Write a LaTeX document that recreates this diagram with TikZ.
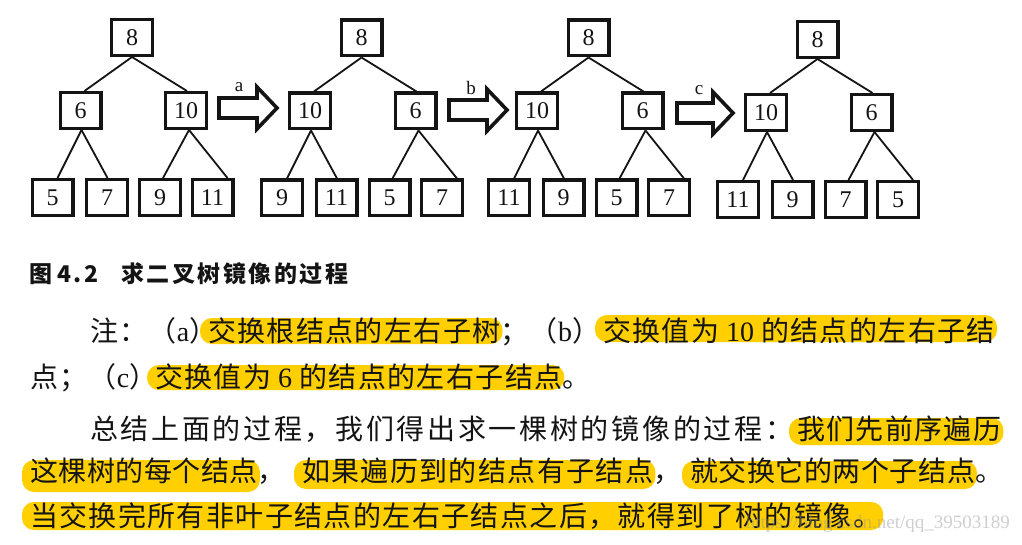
\documentclass[tikz,border=0pt]{standalone}
\usepackage{fontspec}
\setmainfont{Liberation Serif}
\newfontfamily\cjkp{Noto Sans CJK SC}[LetterSpace=5]
\newfontfamily\cjkw{Noto Sans CJK SC}[LetterSpace=9.6]
\newfontfamily\cjkn{Noto Sans CJK SC}[LetterSpace=2]
\newfontfamily\cjkh{Noto Sans CJK SC}[LetterSpace=11]
\usetikzlibrary{backgrounds,calc}
\definecolor{hly}{RGB}{255,207,0}
\definecolor{ink}{RGB}{20,20,20}
\definecolor{wmc}{RGB}{150,150,150}
\newcommand\lat[1]{{\rmfamily #1}}
\newcommand\hlbox[3]{\fill[hl] let \p1=(#1.base west), \p2=(#1.base east) in (\x1-8pt,-#2pt) rectangle (\x2+2pt,-#3pt);}
\begin{document}
\begin{tikzpicture}[x=1pt,y=-1pt,
  bx/.style={draw=ink,line width=3.3pt,minimum width=40.7pt,minimum height=35.7pt,inner sep=0pt,font=\fontsize{24}{24}\selectfont,text=ink},
  edge/.style={draw=ink,line width=1.8pt},
  blk/.style={draw=ink,line width=3.6pt,fill=white,line join=miter},
  lab/.style={font=\fontsize{19}{19}\selectfont,text=ink,inner sep=0pt},
  seg/.style={anchor=base west,inner sep=0pt,outer sep=0pt,font=\cjkp\fontsize{28}{28}\selectfont,text=ink},
  hd/.style={anchor=base west,inner sep=0pt,outer sep=0pt,font=\cjkh\bfseries\fontsize{23}{23}\selectfont,text=ink},
  hl/.style={fill=hly,rounded corners=12pt}]
\useasboundingbox (0,0) rectangle (1022,545);

% trees
\foreach \p/\x/\y/\r/\a/\b/\c/\d/\e/\f in {A/132/37.5/8/6/10/5/7/9/11, B/361.5/38/8/10/6/9/11/5/7, C/588.5/38/8/10/6/11/9/5/7, D/817.5/39.5/8/10/6/11/9/7/5}{
  \node[bx] (\p0) at (\x,\y) {\r};
  \node[bx] (\p1) at (\x-51.5,\y+73) {\a};
  \node[bx] (\p2) at (\x+54,\y+73) {\b};
  \node[bx] (\p3) at (\x-79.5,\y+160) {\c};
  \node[bx] (\p4) at (\x-25,\y+160) {\d};
  \node[bx] (\p5) at (\x+28,\y+160) {\e};
  \node[bx] (\p6) at (\x+80.5,\y+160) {\f};
  \draw[edge] (\p0.south) -- ([xshift=4pt]\p1.north);
  \draw[edge] (\p0.south) -- ([xshift=1pt]\p2.north);
  \draw[edge] ([xshift=1pt]\p1.south) -- ([xshift=5pt]\p3.north);
  \draw[edge] ([xshift=1pt]\p1.south) -- ([xshift=0.5pt]\p4.north);
  \draw[edge] ([xshift=3pt]\p2.south) -- ([xshift=3pt]\p5.north);
  \draw[edge] ([xshift=3pt]\p2.south) -- ([xshift=15pt]\p6.north);
}

% block arrows
\foreach \L/\C/\len/\t/\lx/\ly in {219/108/58/a/239/87, 449/110/58/b/471/88, 677/113/56/c/699/90}{
  \draw[blk] (\L,\C-10) -- (\L+\len-20,\C-10) -- (\L+\len-20,\C-21) -- (\L+\len,\C) -- (\L+\len-20,\C+21) -- (\L+\len-20,\C+10) -- (\L,\C+10) -- cycle;
  \node[lab] (lab\t) at (\lx,\ly) {\t};
}

% caption
\node[hd] (h1) at (29,282) {图};
\node[hd] (h2) at (57,282) {4.2};
\node[hd] (h3) at (121,282) {求二叉树镜像的过程};

% note paragraph
\node[seg] (p1a) at (90,341) {注：（\lat{a}）};
\node[seg] (p1b) at (208,341) {交换根结点的左右子树};
\node[seg] (p1c) at (p1b.base east) {；（\lat{b}）};
\node[seg] (p1d) at (603,341) {交换值为\lat{\ 10\ }的结点的左右子结};
\node[seg] (p2a) at (30,387) {点；（\lat{c}）};
\node[seg] (p2b) at (155,387) {交换值为\lat{\ 6\ }的结点的左右子结点};
\node[seg] (p2c) at (p2b.base east) {。};

% summary paragraph
\node[seg,font=\cjkw\fontsize{28}{28}\selectfont] (q1a) at (90,439) {总结上面的过程，我们得出求一棵树的镜像的过程：};
\node[seg] (q1b) at (797,439) {我们先前序遍历};
\node[seg,font=\cjkn\fontsize{28}{28}\selectfont] (q2a) at (30,481) {这棵树的每个结点};
\node[seg] (q2b) at (q2a.base east) {，};
\node[seg] (q2c) at (302,481) {如果遍历到的结点有子结点};
\node[seg] (q2d) at (q2c.base east) {，};
\node[seg,font=\cjkn\fontsize{28}{28}\selectfont] (q2e) at (690,481) {就交换它的两个子结点};
\node[seg] (q2f) at (q2e.base east) {。};
\node[seg] (q3a) at (30,526) {当交换完所有非叶子结点的左右子结点之后，就得到了树的镜像。};

% watermark
\node[anchor=base east,inner sep=0pt,text=wmc,opacity=0.45,font=\rmfamily\fontsize{19}{19}\selectfont] (wm) at (1010,528) {https://blog.csdn.net/qq\_39503189};

\begin{pgfonlayer}{background}
  \fill[white] (0,0) rectangle (1022,545);
  \hlbox{p1b}{318}{344}
  \hlbox{p1d}{315}{342}
  \hlbox{p2b}{365}{390}
  \hlbox{q1b}{418}{445}
  \hlbox{q2a}{460}{492}
  \hlbox{q2c}{460}{489}
  \hlbox{q2e}{461}{489}
  \hlbox{q3a}{502}{530}
\end{pgfonlayer}
\end{tikzpicture}
\end{document}
